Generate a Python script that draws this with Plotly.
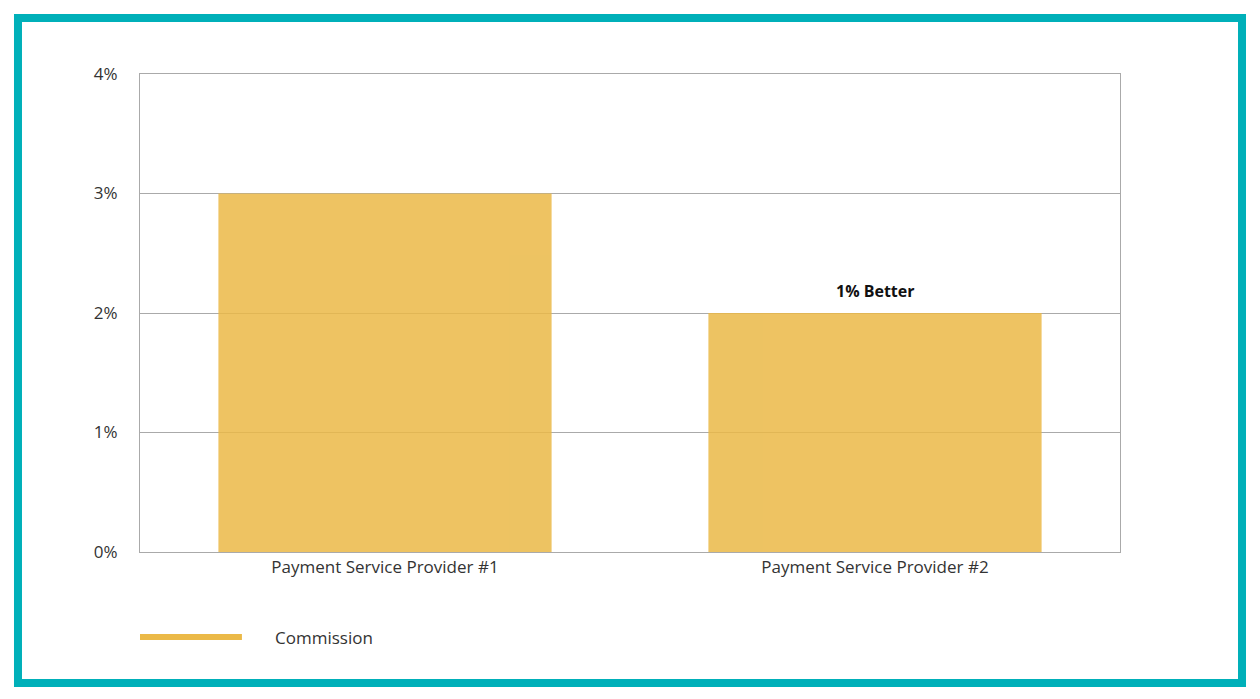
import plotly.graph_objects as go

providers = ["Payment Service Provider #1", "Payment Service Provider #2"]
commission = [0.03, 0.02]
y_ticks = [0, 0.01, 0.02, 0.03, 0.04]
y_tick_labels = ["0%", "1%", "2%", "3%", "4%"]
note_text = "1% Better"
series_name = "Commission"

font = "Open Sans, Lato, sans-serif"

fig = go.Figure()
fig.add_trace(go.Bar(
    x=providers, y=commission, name=series_name,
    marker=dict(color="#EBB947", line=dict(width=0)), opacity=0.85,
    hoverinfo="x+y",
))

# label over the second bar
fig.add_annotation(x=providers[1], y=commission[1], text="<b>" + note_text + "</b>",
                   showarrow=False, yshift=22, font=dict(family=font, size=16, color="#111"))

# legend drawn by hand (long line swatch)
fig.add_shape(type="line", xref="paper", yref="paper", x0=0, x1=0.104, y0=-0.178, y1=-0.178,
              line=dict(color="#EBB947", width=6))
fig.add_annotation(xref="paper", yref="paper", x=0.136, y=-0.178, xanchor="left", yanchor="middle",
                   text=series_name, showarrow=False, font=dict(family=font, size=17, color="#333"))

# teal frame around the whole picture
fig.add_shape(type="rect", xref="paper", yref="paper", x0=-0.1245, x1=1.1245, y0=-0.274, y1=1.117,
              line=dict(color="#00B0B9", width=8), layer="below")

fig.update_layout(
    width=1260, height=699,
    margin=dict(l=132, r=148, t=66, b=155),
    paper_bgcolor="white", plot_bgcolor="white",
    showlegend=False, bargap=0.32,
    font=dict(family=font, size=17, color="#333"),
)
fig.update_yaxes(range=[0, 0.04], tickvals=y_ticks, ticktext=y_tick_labels,
                 showgrid=True, gridcolor="#aaa", gridwidth=1,
                 showline=True, linecolor="#aaa", mirror=True, zeroline=False,
                 ticks="", ticklabelstandoff=18)
fig.update_xaxes(showline=True, linecolor="#aaa", mirror=True, tickfont=dict(size=17))

fig.write_html("out.html")
